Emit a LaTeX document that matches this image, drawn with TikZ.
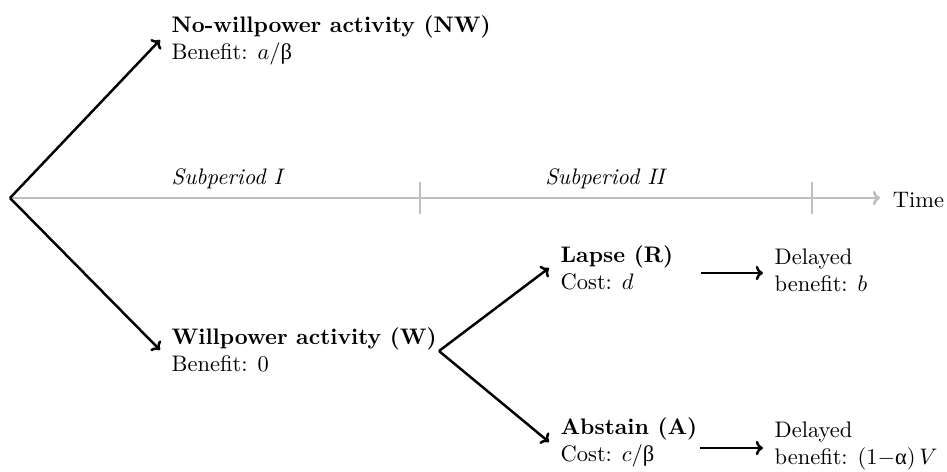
\documentclass[tikz,border=0pt]{standalone}
\usepackage{fontspec}
\newfontfamily\grk{Liberation Serif}
\usetikzlibrary{arrows.meta}
\begin{document}
\begin{tikzpicture}[x=0.445pt,y=-0.445pt,
  lbl/.style={align=left, inner xsep=5pt, inner ysep=0pt, font=\fontsize{10}{12}\selectfont},
  br/.style={line width=1.1pt, -{To[length=3.2pt,width=6.4pt]}},
  ax/.style={line width=1.2pt, draw=gray!50},
  per/.style={font=\fontsize{10}{12}\selectfont\itshape, inner sep=0pt}]
\useasboundingbox (0,0) rectangle (947,471);
\coordinate (o) at (10,198);
% time axis
\node[lbl, anchor=west, inner xsep=5.5pt] (time) at (880,200) {Time};
\draw[ax, -{To[length=3.2pt,width=6.4pt]}] (o) -- (o -| time.west);
\draw[ax] (420,182) -- (420,214);
\draw[ax] (812,182) -- (812,214);
\node[per] (p1) at (227,179) {Subperiod I};
\node[per] (p2) at (605,179) {Subperiod II};
% first choice
\node[lbl, anchor=west] (nw) at (160,40) {\textbf{No-willpower activity (NW)}\\Benefit: $a$/{\grk β}};
\node[lbl, anchor=west] (w) at (160,350) {\textbf{Willpower activity (W)}\\Benefit: 0};
\draw[br] (o) -- (nw.west);
\draw[br] (o) -- (w.west);
% second choice
\coordinate (wb) at (439,351);
\node[lbl, anchor=west] (r) at (549,268) {\textbf{Lapse (R)}\\Cost: $d$};
\node[lbl, anchor=west] (a) at (549,442) {\textbf{Abstain (A)}\\Cost: $c$/{\grk β}};
\draw[br] (wb) -- (r.west);
\draw[br] (wb) -- (a.west);
% delayed benefits
\coordinate (rs) at (701,273);
\coordinate (as) at (700,448);
\node[lbl, anchor=west] (dr) at (763,270) {Delayed\\benefit: $b$};
\node[lbl, anchor=west] (da) at (763,446) {Delayed\\benefit: (1$-${\grk α})\,$V$};
\draw[br] (rs) -- (rs -| dr.west);
\draw[br] (as) -- (as -| da.west);
\end{tikzpicture}
\end{document}
